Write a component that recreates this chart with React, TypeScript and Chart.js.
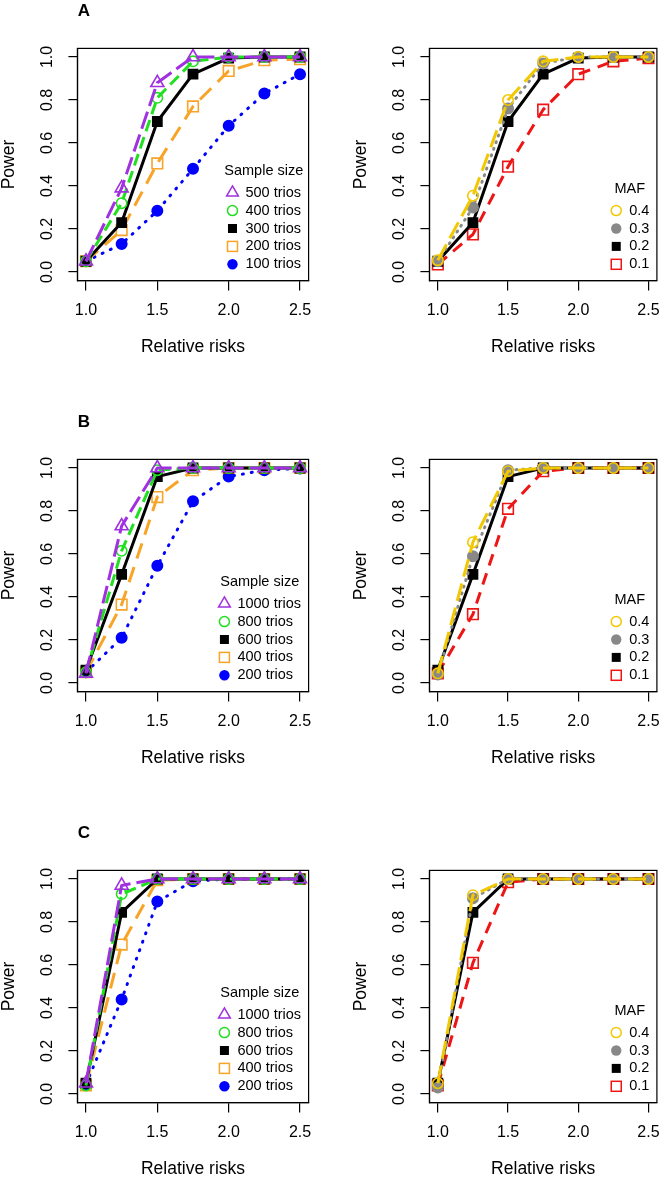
import React, { useEffect, useRef } from 'react';
import { Chart, registerables } from 'chart.js';

Chart.register(...registerables);

// ---------- data ----------
const relativeRisks = [1.0, 1.25, 1.5, 1.75, 2.0, 2.25, 2.5];
const xTickValues = [1.0, 1.5, 2.0, 2.5];
const xTickLabels = ['1.0', '1.5', '2.0', '2.5'];
const yTickValues = [0, 0.2, 0.4, 0.6, 0.8, 1.0];
const yTickLabels = ['0.0', '0.2', '0.4', '0.6', '0.8', '1.0'];

const xTitle = 'Relative risks';
const yTitle = 'Power';
const sizeTitle = 'Sample size';
const mafTitle = 'MAF';

const sizeLabelsA = ['500 trios', '400 trios', '300 trios', '200 trios', '100 trios'];
const sizeLabelsBC = ['1000 trios', '800 trios', '600 trios', '400 trios', '200 trios'];
const mafLabels = ['0.4', '0.3', '0.2', '0.1'];

// Panel A, left (sample size)
const a500 = [0.05, 0.39, 0.88, 1.0, 1.0, 1.0, 1.0];
const a400 = [0.05, 0.32, 0.81, 0.98, 1.0, 1.0, 1.0];
const a300 = [0.05, 0.23, 0.7, 0.92, 0.995, 1.0, 1.0];
const a200 = [0.05, 0.195, 0.505, 0.77, 0.935, 0.985, 0.99];
const a100 = [0.05, 0.13, 0.285, 0.48, 0.68, 0.83, 0.92];
// Panel A, right (MAF)
const aMaf04 = [0.055, 0.355, 0.8, 0.98, 1.0, 1.0, 1.0];
const aMaf03 = [0.05, 0.3, 0.76, 0.97, 1.0, 1.0, 1.0];
const aMaf02 = [0.05, 0.23, 0.7, 0.92, 0.995, 1.0, 1.0];
const aMaf01 = [0.035, 0.175, 0.49, 0.755, 0.92, 0.98, 0.995];

// Panel B, left
const b1000 = [0.045, 0.73, 1.0, 1.0, 1.0, 1.0, 1.0];
const b800 = [0.05, 0.615, 0.99, 1.0, 1.0, 1.0, 1.0];
const b600 = [0.06, 0.505, 0.96, 1.0, 1.0, 1.0, 1.0];
const b400 = [0.05, 0.365, 0.865, 0.99, 1.0, 1.0, 1.0];
const b200 = [0.05, 0.21, 0.545, 0.845, 0.96, 0.99, 0.998];
// Panel B, right
const bMaf04 = [0.045, 0.655, 0.985, 1.0, 1.0, 1.0, 1.0];
const bMaf03 = [0.04, 0.59, 0.99, 1.0, 1.0, 1.0, 1.0];
const bMaf02 = [0.06, 0.505, 0.96, 1.0, 1.0, 1.0, 1.0];
const bMaf01 = [0.045, 0.32, 0.81, 0.985, 1.0, 1.0, 1.0];

// Panel C, left
const c1000 = [0.05, 0.97, 1.0, 1.0, 1.0, 1.0, 1.0];
const c800 = [0.04, 0.93, 1.0, 1.0, 1.0, 1.0, 1.0];
const c600 = [0.05, 0.845, 1.0, 1.0, 1.0, 1.0, 1.0];
const c400 = [0.04, 0.695, 0.995, 1.0, 1.0, 1.0, 1.0];
const c200 = [0.045, 0.44, 0.895, 0.99, 1.0, 1.0, 1.0];
// Panel C, right
const cMaf04 = [0.05, 0.925, 1.0, 1.0, 1.0, 1.0, 1.0];
const cMaf03 = [0.03, 0.91, 1.0, 1.0, 1.0, 1.0, 1.0];
const cMaf02 = [0.05, 0.845, 1.0, 1.0, 1.0, 1.0, 1.0];
const cMaf01 = [0.04, 0.61, 0.985, 1.0, 1.0, 1.0, 1.0];

// ---------- styles ----------
type Marker = 'triangleOpen' | 'circleOpen' | 'squareFilled' | 'squareOpen' | 'circleFilled';
interface SeriesStyle { color: string; marker: Marker; dash: number[]; cap: 'butt' | 'round'; }

const sizeStyles: SeriesStyle[] = [
  { color: '#a030e0', marker: 'triangleOpen', dash: [18, 6], cap: 'butt' },
  { color: '#20e020', marker: 'circleOpen', dash: [12, 6], cap: 'butt' },
  { color: '#000000', marker: 'squareFilled', dash: [], cap: 'butt' },
  { color: '#f7a428', marker: 'squareOpen', dash: [16, 9], cap: 'butt' },
  { color: '#0000ff', marker: 'circleFilled', dash: [1, 8], cap: 'round' },
];
const mafStyles: SeriesStyle[] = [
  { color: '#f2c800', marker: 'circleOpen', dash: [18, 7], cap: 'butt' },
  { color: '#888888', marker: 'circleFilled', dash: [1, 6], cap: 'round' },
  { color: '#000000', marker: 'squareFilled', dash: [], cap: 'butt' },
  { color: '#ee1515', marker: 'squareOpen', dash: [12, 8], cap: 'butt' },
];

const FONT = '"Liberation Sans", Arial, sans-serif';
const ROW_H = 411;
const COL_W = 333;
const BOX_TOP = 48.4;
const BOX_BOTTOM = 280.6;
const X_AXIS_H = 40;

function pointOpts(m: Marker, color: string) {
  switch (m) {
    case 'triangleOpen': return { pointStyle: 'triangle', pointRadius: 7.5, pointBackgroundColor: 'rgba(0,0,0,0)' };
    case 'circleOpen': return { pointStyle: 'circle', pointRadius: 5.2, pointBackgroundColor: 'rgba(0,0,0,0)' };
    case 'squareFilled': return { pointStyle: 'rect', pointRadius: 6.5, pointBackgroundColor: color };
    case 'squareOpen': return { pointStyle: 'rect', pointRadius: 7.5, pointBackgroundColor: 'rgba(0,0,0,0)' };
    default: return { pointStyle: 'circle', pointRadius: 5.2, pointBackgroundColor: color };
  }
}

function drawSymbol(ctx: CanvasRenderingContext2D, m: Marker, x: number, y: number, color: string) {
  ctx.save();
  ctx.strokeStyle = color;
  ctx.fillStyle = color;
  ctx.lineWidth = 1.5;
  ctx.setLineDash([]);
  ctx.beginPath();
  if (m === 'triangleOpen') {
    const r = 6.8;
    ctx.moveTo(x, y - r);
    ctx.lineTo(x + r * 0.866, y + r * 0.5);
    ctx.lineTo(x - r * 0.866, y + r * 0.5);
    ctx.closePath();
    ctx.stroke();
  } else if (m === 'circleOpen') {
    ctx.arc(x, y, 5, 0, Math.PI * 2);
    ctx.stroke();
  } else if (m === 'circleFilled') {
    ctx.arc(x, y, 5.2, 0, Math.PI * 2);
    ctx.fill();
  } else if (m === 'squareFilled') {
    ctx.fillRect(x - 4.5, y - 4.5, 9, 9);
  } else {
    ctx.strokeRect(x - 5, y - 5, 10, 10);
  }
  ctx.restore();
}

const panelPlugin = {
  id: 'rPanel',
  afterDraw(chart: any, _args: any, opts: any) {
    const { ctx, chartArea: a, scales } = chart;
    const xs = scales.x;
    const ys = scales.y;
    ctx.save();
    ctx.setLineDash([]);
    ctx.strokeStyle = '#000';
    ctx.lineWidth = 1.2;
    ctx.strokeRect(a.left, a.top, a.right - a.left, a.bottom - a.top);

    ctx.fillStyle = '#000';
    ctx.textAlign = 'center';
    ctx.textBaseline = 'middle';
    ctx.font = `16px ${FONT}`;
    xTickValues.forEach((v, i) => {
      ctx.fillText(xTickLabels[i], xs.getPixelForValue(v), a.bottom + 30);
    });
    yTickValues.forEach((v, i) => {
      ctx.save();
      ctx.translate(a.left - 29.5, ys.getPixelForValue(v));
      ctx.rotate(-Math.PI / 2);
      ctx.fillText(yTickLabels[i], 0, 0);
      ctx.restore();
    });

    ctx.font = `17.5px ${FONT}`;
    ctx.fillText(xTitle, (a.left + a.right) / 2, a.bottom + 67);
    ctx.save();
    ctx.translate(a.left - 68, (a.top + a.bottom) / 2);
    ctx.rotate(-Math.PI / 2);
    ctx.fillText(yTitle, 0, 0);
    ctx.restore();

    if (opts.letter) {
      ctx.font = `bold 17px ${FONT}`;
      ctx.fillText(opts.letter, a.left + 6.6, a.top - 37);
    }

    // legend (bottom right, no box)
    const labels: string[] = opts.legendLabels;
    const styles: SeriesStyle[] = opts.legendStyles;
    ctx.font = `14.5px ${FONT}`;
    const maxW = Math.max(...labels.map((l) => ctx.measureText(l).width));
    const textEnd = a.right - 7.5;
    const textX = textEnd - maxW;
    const symX = textX - 13;
    const rowH = 17.9;
    const lastY = a.bottom - 16.3;
    const n = labels.length;
    ctx.textAlign = 'left';
    labels.forEach((l, i) => {
      const y = lastY - (n - 1 - i) * rowH;
      drawSymbol(ctx, styles[i].marker, symX, y, styles[i].color);
      ctx.fillStyle = '#000';
      ctx.fillText(l, textX, y);
    });
    ctx.textAlign = 'center';
    ctx.fillText(opts.legendTitle, (symX - 6 + textEnd) / 2, lastY - (n - 1) * rowH - 22);
    ctx.restore();
  },
};

interface PanelProps {
  left: number;
  top: number;
  height: number;
  boxLeft: number;
  boxRight: number;
  letter?: string;
  series: number[][];
  labels: string[];
  styles: SeriesStyle[];
  legendTitle: string;
}

function Panel(p: PanelProps) {
  const ref = useRef<HTMLCanvasElement | null>(null);
  useEffect(() => {
    if (!ref.current) return;
    const datasets = p.series.map((vals, i) => {
      const st = p.styles[i];
      return {
        label: p.labels[i],
        data: relativeRisks.map((x, j) => ({ x, y: vals[j] })),
        borderColor: st.color,
        backgroundColor: st.color,
        borderWidth: 3,
        borderDash: st.dash,
        borderCapStyle: st.cap,
        borderJoinStyle: 'round',
        pointBorderColor: st.color,
        pointBorderWidth: 1.6,
        tension: 0,
        fill: false,
        ...pointOpts(st.marker, st.color),
      };
    });
    const chart = new Chart(ref.current, {
      type: 'line',
      data: { datasets } as any,
      plugins: [panelPlugin],
      options: {
        animation: false,
        responsive: false,
        maintainAspectRatio: false,
        layout: {
          padding: {
            left: 0,
            right: COL_W - p.boxRight,
            top: BOX_TOP,
            bottom: p.height - BOX_BOTTOM - X_AXIS_H,
          },
        },
        plugins: {
          legend: { display: false },
          tooltip: { enabled: false },
          rPanel: {
            letter: p.letter,
            legendLabels: p.labels,
            legendStyles: p.styles,
            legendTitle: p.legendTitle,
          },
        } as any,
        scales: {
          x: {
            type: 'linear',
            min: 0.94,
            max: 2.56,
            afterBuildTicks: (s: any) => { s.ticks = xTickValues.map((v) => ({ value: v })); },
            afterFit: (s: any) => { s.height = X_AXIS_H; },
            ticks: { display: false },
            grid: { display: true, drawOnChartArea: false, drawTicks: true, tickLength: 10, color: '#000', lineWidth: 1.2 },
            border: { display: true, color: '#000', width: 1.2 },
          },
          y: {
            type: 'linear',
            min: -0.04,
            max: 1.04,
            afterBuildTicks: (s: any) => { s.ticks = yTickValues.map((v) => ({ value: v })); },
            afterFit: (s: any) => { s.width = p.boxLeft; },
            ticks: { display: false },
            grid: { display: true, drawOnChartArea: false, drawTicks: true, tickLength: 9, color: '#000', lineWidth: 1.2 },
            border: { display: true, color: '#000', width: 1.2 },
          },
        },
      } as any,
    });
    return () => chart.destroy();
  }, []);
  return (
    <canvas
      ref={ref}
      width={COL_W}
      height={p.height}
      style={{ position: 'absolute', left: p.left, top: p.top, width: COL_W, height: p.height }}
    />
  );
}

export default function App() {
  const lastH = 1180 - 2 * ROW_H;
  const L = { boxLeft: 77.4, boxRight: 308.6 };
  const R = { boxLeft: 96.4, boxRight: 327.6 };
  return (
    <div style={{ position: 'absolute', left: 0, top: 0, width: 666, height: 1180, background: '#fff', overflow: 'hidden' }}>
      <Panel left={0} top={0} height={ROW_H} {...L} letter="A"
        series={[a500, a400, a300, a200, a100]} labels={sizeLabelsA} styles={sizeStyles} legendTitle={sizeTitle} />
      <Panel left={COL_W} top={0} height={ROW_H} {...R}
        series={[aMaf04, aMaf03, aMaf02, aMaf01]} labels={mafLabels} styles={mafStyles} legendTitle={mafTitle} />
      <Panel left={0} top={ROW_H} height={ROW_H} {...L} letter="B"
        series={[b1000, b800, b600, b400, b200]} labels={sizeLabelsBC} styles={sizeStyles} legendTitle={sizeTitle} />
      <Panel left={COL_W} top={ROW_H} height={ROW_H} {...R}
        series={[bMaf04, bMaf03, bMaf02, bMaf01]} labels={mafLabels} styles={mafStyles} legendTitle={mafTitle} />
      <Panel left={0} top={2 * ROW_H} height={lastH} {...L} letter="C"
        series={[c1000, c800, c600, c400, c200]} labels={sizeLabelsBC} styles={sizeStyles} legendTitle={sizeTitle} />
      <Panel left={COL_W} top={2 * ROW_H} height={lastH} {...R}
        series={[cMaf04, cMaf03, cMaf02, cMaf01]} labels={mafLabels} styles={mafStyles} legendTitle={mafTitle} />
    </div>
  );
}
